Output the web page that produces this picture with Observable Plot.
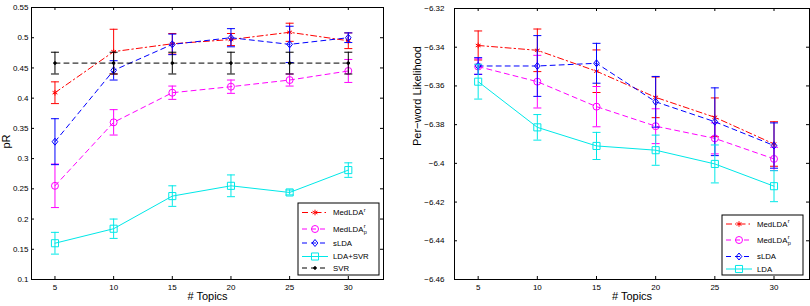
<!DOCTYPE html>
<html>
<head>
<meta charset="utf-8">
<script src="https://cdn.jsdelivr.net/npm/d3@7"></script>
<script src="https://cdn.jsdelivr.net/npm/@observablehq/plot@0.6"></script>
<style>
  html, body { margin: 0; padding: 0; background: #fff; }
  #fig { display: flex; width: 810px; height: 306px; }
  #fig svg { display: block; }
</style>
</head>
<body>
<div id="fig"></div>
<script>
// Number of topics on the x axis (shared by both panels)
const topics = [5, 10, 15, 20, 25, 30];

// Left panel: predictive R² (mean and error per topic count)
const prMedLDAr     = [0.409, 0.477, 0.490, 0.497, 0.509, 0.495];
const prMedLDArErr  = [0.018, 0.037, 0.017, 0.010, 0.015, 0.013];
const prMedLDArp    = [0.255, 0.360, 0.409, 0.419, 0.430, 0.445];
const prMedLDArpErr = [0.036, 0.021, 0.011, 0.011, 0.010, 0.019];
const prSLDA        = [0.328, 0.446, 0.489, 0.500, 0.489, 0.500];
const prSLDAErr     = [0.038, 0.016, 0.017, 0.015, 0.030, 0.008];
const prLDASVR      = [0.160, 0.184, 0.238, 0.255, 0.244, 0.281];
const prLDASVRErr   = [0.018, 0.016, 0.017, 0.018, 0.004, 0.012];
const prSVR         = [0.458, 0.458, 0.458, 0.458, 0.458, 0.458];
const prSVRErr      = [0.018, 0.018, 0.018, 0.018, 0.018, 0.018];

// Right panel: per-word likelihood
const llMedLDAr     = [-6.3391, -6.3416, -6.3524, -6.3659, -6.3762, -6.3900];
const llMedLDArErr  = [0.0075, 0.011, 0.011, 0.0105, 0.010, 0.0115];
const llMedLDArp    = [-6.3500, -6.3578, -6.3707, -6.3808, -6.3871, -6.3977];
const llMedLDArpErr = [0.004, 0.0136, 0.0104, 0.009, 0.008, 0.006];
const llSLDA        = [-6.3497, -6.3497, -6.3483, -6.3682, -6.3785, -6.3908];
const llSLDAErr     = [0.0043, 0.0157, 0.0103, 0.0131, 0.0175, 0.0117];
const llLDA         = [-6.3578, -6.3814, -6.3910, -6.3932, -6.4003, -6.4118];
const llLDAErr      = [0.009, 0.0066, 0.007, 0.0078, 0.0098, 0.008];

// Axis ticks
const prYTicks = [0.1, 0.15, 0.2, 0.25, 0.3, 0.35, 0.4, 0.45, 0.5, 0.55];
const llYTicks = [-6.46, -6.44, -6.42, -6.4, -6.38, -6.36, -6.34, -6.32];

const rows = (vals, errs) => topics.map((t, i) => ({t, v: vals[i], e: errs[i]}));

// Marker shapes
const diamond = {
  draw(ctx, size) {
    const k = Math.sqrt(size / Math.PI);
    ctx.moveTo(0, -1.25 * k); ctx.lineTo(k, 0); ctx.lineTo(0, 1.25 * k); ctx.lineTo(-k, 0); ctx.closePath();
  }
};
const cap = {
  draw(ctx, size) {
    const k = Math.sqrt(size / Math.PI);
    ctx.moveTo(-k, 0); ctx.lineTo(k, 0);
  }
};

const sty = {
  medldaR:  {color: "#ff0000", dash: "6,3,1.5,3", symbol: d3.symbolAsterisk, r: 2.6, fill: "none"},
  medldaRp: {color: "#ff00ff", dash: "5,4", symbol: d3.symbolCircle, r: 3.5, fill: "none"},
  slda:     {color: "#0000ff", dash: "5,4", symbol: diamond, r: 2.8, fill: "none"},
  lda:      {color: "#00e8e8", dash: null, symbol: d3.symbolSquare, r: 4, fill: "none"},
  svr:      {color: "#000000", dash: "5,4", symbol: d3.symbolCircle, r: 1.3, fill: "#000"}
};

function seriesMarks(data, s) {
  return [
    Plot.line(data, {x: "t", y: "v", stroke: s.color, strokeWidth: 1, strokeDasharray: s.dash ?? undefined}),
    Plot.ruleX(data, {x: "t", y1: d => d.v - d.e, y2: d => d.v + d.e, stroke: s.color, strokeWidth: 1}),
    Plot.dot(data, {x: "t", y: d => d.v + d.e, symbol: cap, r: 4, stroke: s.color, fill: "none", strokeWidth: 1}),
    Plot.dot(data, {x: "t", y: d => d.v - d.e, symbol: cap, r: 4, stroke: s.color, fill: "none", strokeWidth: 1}),
    Plot.dot(data, {x: "t", y: "v", symbol: s.symbol, r: s.r, stroke: s.color, fill: s.fill, strokeWidth: 1})
  ];
}

// MATLAB-style inward ticks on all four sides
function boxTicks(yTicks, innerW, innerH) {
  return [
    Plot.ruleX(topics, {insetTop: innerH - 3, stroke: "#000"}),
    Plot.ruleX(topics, {insetBottom: innerH - 3, stroke: "#000"}),
    Plot.ruleY(yTicks, {insetRight: innerW - 3, stroke: "#000"}),
    Plot.ruleY(yTicks, {insetLeft: innerW - 3, stroke: "#000"})
  ];
}

function drawLegend(svgEl, box, entries) {
  const g = d3.select(svgEl).append("g")
    .attr("font-family", "'Liberation Sans', Arial, sans-serif")
    .attr("text-anchor", "start");
  g.append("rect")
    .attr("x", box.x).attr("y", box.y).attr("width", box.w).attr("height", box.h)
    .attr("fill", "#fff").attr("stroke", "#000").attr("stroke-width", 1);
  for (const en of entries) {
    const s = en.style;
    g.append("line")
      .attr("x1", box.x + 4).attr("x2", box.x + 30).attr("y1", en.y).attr("y2", en.y)
      .attr("stroke", s.color).attr("stroke-width", 1)
      .attr("stroke-dasharray", s.dash);
    g.append("path")
      .attr("transform", `translate(${box.x + 17},${en.y})`)
      .attr("d", d3.symbol(s.symbol, s.r * s.r * Math.PI)())
      .attr("fill", s.fill).attr("stroke", s.color).attr("stroke-width", 1);
    const tx = box.x + 35;
    const t = g.append("text").attr("x", tx).attr("y", en.y).attr("dy", "0.35em")
      .attr("text-anchor", "start").attr("font-size", 7.8).text(en.label);
    const len = t.node().getComputedTextLength();
    if (en.sup) {
      g.append("text").attr("x", tx + len + 0.3).attr("y", en.y - 2.8).attr("dy", "0.35em")
        .attr("text-anchor", "start").attr("font-size", 5.5).text(en.sup);
    }
    if (en.sub) {
      g.append("text").attr("x", tx + len + 0.3).attr("y", en.y + 3.4).attr("dy", "0.35em")
        .attr("text-anchor", "start").attr("font-size", 5.5).text(en.sub);
    }
  }
}

const font = "'Liberation Sans', Arial, Helvetica, sans-serif";

// ---- Left panel: pR² ----
{
  const W = 405, H = 306, m = {top: 7, right: 22, bottom: 27, left: 31};
  const iw = W - m.left - m.right, ih = H - m.top - m.bottom;
  const fmt = d => String(+d.toFixed(2));
  const chart = Plot.plot({
    width: W, height: H,
    marginTop: m.top, marginRight: m.right, marginBottom: m.bottom, marginLeft: m.left,
    style: {fontFamily: font, fontSize: "8px", background: "#fff", overflow: "visible"},
    x: {domain: [3, 33]},
    y: {domain: [0.1, 0.55]},
    marks: [
      ...seriesMarks(rows(prMedLDAr, prMedLDArErr), sty.medldaR),
      ...seriesMarks(rows(prMedLDArp, prMedLDArpErr), sty.medldaRp),
      ...seriesMarks(rows(prSLDA, prSLDAErr), sty.slda),
      ...seriesMarks(rows(prLDASVR, prLDASVRErr), sty.lda),
      ...seriesMarks(rows(prSVR, prSVRErr), sty.svr),
      ...boxTicks(prYTicks, iw, ih),
      Plot.frame({stroke: "#000", strokeWidth: 1}),
      Plot.axisX({ticks: topics, tickSize: 0, tickPadding: 5, label: null}),
      Plot.axisY({ticks: prYTicks, tickSize: 0, tickPadding: 3, tickFormat: fmt, label: null}),
      Plot.text(["# Topics"], {frameAnchor: "bottom", dy: 20, fontSize: 11}),
      Plot.text(["pR"], {frameAnchor: "left", dx: -25.5, dy: 5, rotate: -90, fontSize: 11})
    ]
  });
  document.getElementById("fig").appendChild(chart);
  drawLegend(chart, {x: 298, y: 203, w: 81, h: 72}, [
    {style: sty.medldaR, label: "MedLDA", sup: "r", y: 212.5},
    {style: sty.medldaRp, label: "MedLDA", sup: "r", sub: "p", y: 229},
    {style: sty.slda, label: "sLDA", y: 243},
    {style: sty.lda, label: "LDA+SVR", y: 256.5},
    {style: sty.svr, label: "SVR", y: 268}
  ]);
}

// ---- Right panel: per-word likelihood ----
{
  const W = 405, H = 306, m = {top: 8, right: 1, bottom: 27, left: 49};
  const iw = W - m.left - m.right, ih = H - m.top - m.bottom;
  const fmt = d => (d < 0 ? "\u2212" : "") + String(+Math.abs(d).toFixed(2));
  const chart = Plot.plot({
    width: W, height: H,
    marginTop: m.top, marginRight: m.right, marginBottom: m.bottom, marginLeft: m.left,
    style: {fontFamily: font, fontSize: "8px", background: "#fff", overflow: "visible"},
    x: {domain: [3, 33]},
    y: {domain: [-6.46, -6.32]},
    marks: [
      ...seriesMarks(rows(llMedLDAr, llMedLDArErr), sty.medldaR),
      ...seriesMarks(rows(llMedLDArp, llMedLDArpErr), sty.medldaRp),
      ...seriesMarks(rows(llSLDA, llSLDAErr), sty.slda),
      ...seriesMarks(rows(llLDA, llLDAErr), sty.lda),
      ...boxTicks(llYTicks, iw, ih),
      Plot.frame({stroke: "#000", strokeWidth: 1}),
      Plot.axisX({ticks: topics, tickSize: 0, tickPadding: 5, label: null}),
      Plot.axisY({ticks: llYTicks, tickSize: 0, tickPadding: 10, tickFormat: fmt, label: null}),
      Plot.text(["# Topics"], {frameAnchor: "bottom", dy: 20, fontSize: 11}),
      Plot.text(["Per\u2212word Likelihood"], {frameAnchor: "left", dx: -37, dy: 2, rotate: -90, fontSize: 11})
    ]
  });
  document.getElementById("fig").appendChild(chart);
  drawLegend(chart, {x: 317, y: 215, w: 81, h: 60}, [
    {style: sty.medldaR, label: "MedLDA", sup: "r", y: 224},
    {style: sty.medldaRp, label: "MedLDA", sup: "r", sub: "p", y: 240},
    {style: sty.slda, label: "sLDA", y: 256.5},
    {style: sty.lda, label: "LDA", y: 269}
  ]);
}
</script>
</body>
</html>
